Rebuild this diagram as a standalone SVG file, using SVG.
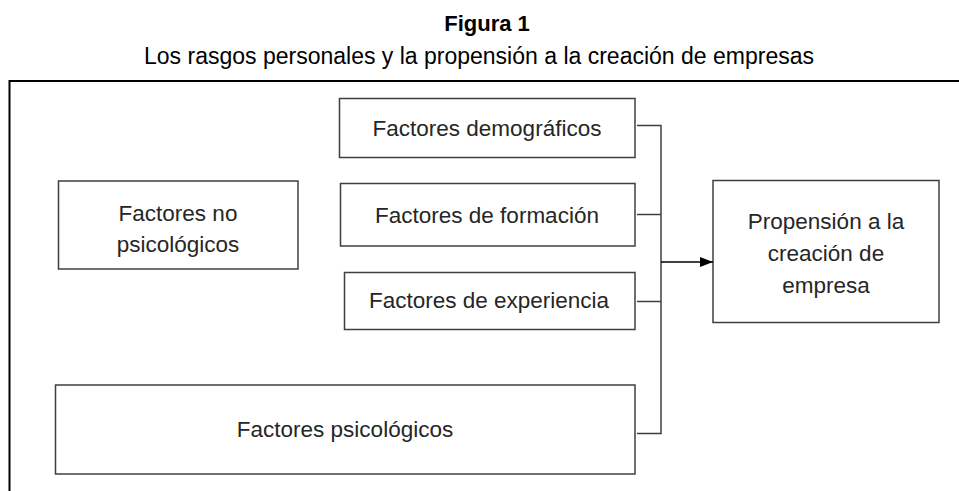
<svg xmlns="http://www.w3.org/2000/svg" width="959" height="491" viewBox="0 0 959 491">
<style>
.box{fill:#fff;stroke:#3f3f3f;stroke-width:1.5}
.t{font-family:"Liberation Sans",Arial,sans-serif;font-size:22.5px;fill:#262626;text-anchor:middle}
.c{fill:none;stroke:#3f3f3f;stroke-width:1.5}
</style>
<defs>
<marker id="ah" markerWidth="13" markerHeight="10" refX="13" refY="5" orient="auto" markerUnits="userSpaceOnUse">
<path d="M0,0 L13,5 L0,10 Z" fill="#000"/>
</marker>
</defs>
<rect width="959" height="491" fill="#fff"/>
<text x="487" y="31" font-family="'Liberation Sans',Arial,sans-serif" font-size="22" font-weight="bold" text-anchor="middle" fill="#000">Figura 1</text>
<text x="479" y="64" font-family="'Liberation Sans',Arial,sans-serif" font-size="23" text-anchor="middle" fill="#000">Los rasgos personales y la propensión a la creación de empresas</text>
<path d="M9.5,491 V81 H959" fill="none" stroke="#000" stroke-width="2"/>
<g id="n-demograficos"><rect class="box" x="339.5" y="98.5" width="295.5" height="59"/><text class="t" x="487" y="136">Factores demográficos</text></g>
<g id="n-formacion"><rect class="box" x="340.5" y="183.5" width="294.5" height="62.5"/><text class="t" x="487" y="223">Factores de formación</text></g>
<g id="n-experiencia"><rect class="box" x="344.5" y="272.5" width="290.5" height="57"/><text class="t" x="489" y="308">Factores de experiencia</text></g>
<g id="n-nopsico"><rect class="box" x="58.5" y="181" width="239.5" height="88"/><text class="t" x="178" y="221">Factores no</text><text class="t" x="178" y="252">psicológicos</text></g>
<g id="n-psico"><rect class="box" x="55.5" y="385" width="579.5" height="89"/><text class="t" x="345" y="437">Factores psicológicos</text></g>
<g id="n-propension"><rect class="box" x="713" y="180.5" width="226" height="142"/><text class="t" x="826" y="229">Propensión a la</text><text class="t" x="826" y="261">creación de</text><text class="t" x="826" y="293">empresa</text></g>
<g id="connectors">
<path class="c" d="M637,125.5 H661 V433.5 H637"/>
<path class="c" d="M637,214.5 H661"/>
<path class="c" d="M637,301.5 H661"/>
<path d="M661,262 H713" fill="none" stroke="#000" stroke-width="1.5" marker-end="url(#ah)"/>
</g>
</svg>
